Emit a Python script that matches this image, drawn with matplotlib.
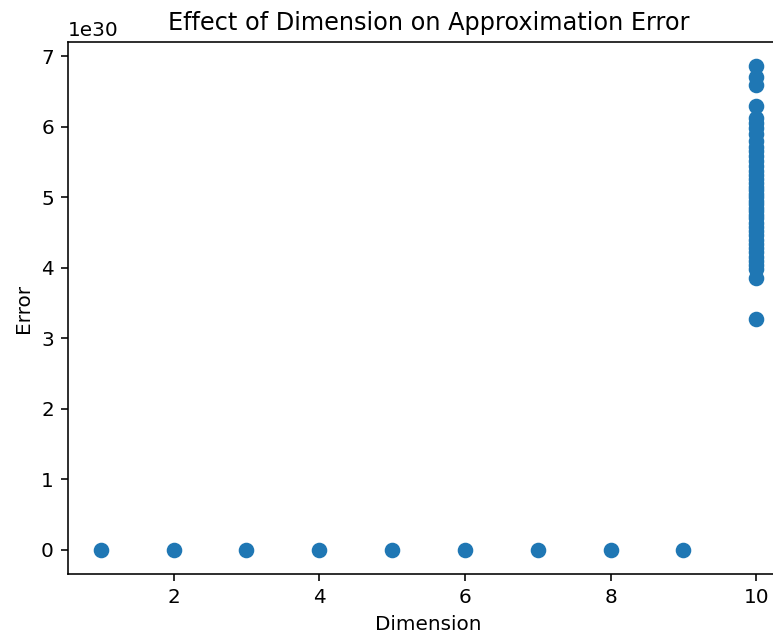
import numpy as np
import matplotlib
matplotlib.use("Agg")
import matplotlib.pyplot as plt

# errors for dimensions 1..9 are all ~0 on this scale
low_dims = [1, 2, 3, 4, 5, 6, 7, 8, 9]
low_errors = [0.0, 0.0, 0.0, 0.0, 0.0, 0.0, 0.0, 0.0, 0.0]

# dimension 10 errors (units of 1e30)
dim10_errors = [6.86, 6.70, 6.60, 6.29, 6.12, 6.05, 5.98, 5.90, 5.80, 5.72,
                5.65, 5.58, 5.52, 5.45, 5.38, 5.32, 5.26, 5.20, 5.15, 5.10,
                5.05, 5.00, 4.95, 4.90, 4.85, 4.80, 4.75, 4.70, 4.64, 4.58,
                4.52, 4.46, 4.40, 4.34, 4.28, 4.22, 4.16, 4.10, 4.04, 3.98,
                3.85, 3.27]

dims = low_dims + [10] * len(dim10_errors)
errors = np.array(low_errors + dim10_errors) * 1e30

fig = plt.figure(figsize=(773 / 144, 640 / 144), dpi=144)
ax = fig.add_axes([68 / 773, 66 / 640, (789 - 68) / 773, (574 - 42) / 640])
ax.scatter(dims, errors, s=46)
ax.spines['right'].set_visible(False)
ax.set_xlabel("Dimension")
ax.set_ylabel("Error")
ax.set_title("Effect of Dimension on Approximation Error")

fig.savefig("out.png", dpi=144)
